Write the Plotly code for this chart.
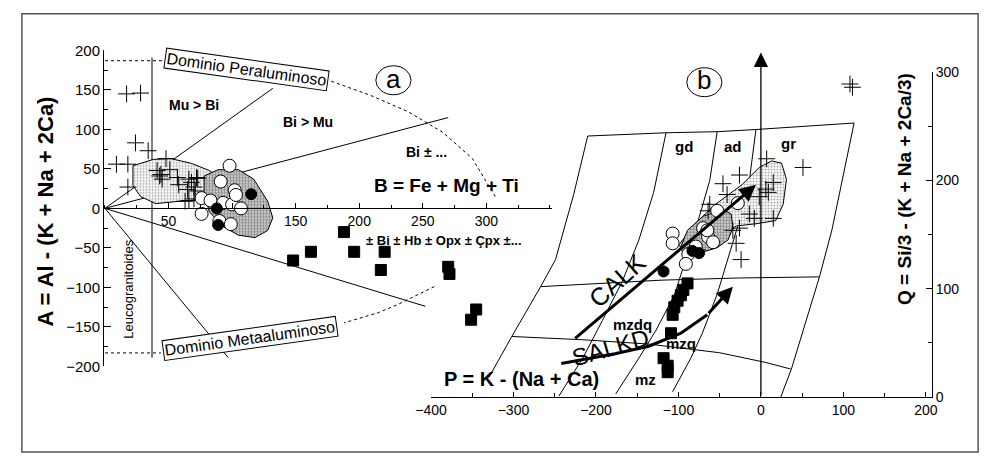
import plotly.graph_objects as go

W, H = 990, 462
def px(x):
    return x / W
def py(y):
    return 1 - y / H

FONT = "Liberation Sans"

# ---------------- Panel a data (B = Fe+Mg+Ti, A = Al-(K+Na+2Ca)) ----------------
a_cross_B = [17, 28, 24, 34, 9, 18, 18, 48, 41, 44, 51, 57, 66, 72, 65, 70, 63, 70, 43, 45, 58, 68, 71, 66, 73]
a_cross_A = [145, 146, 83, 73, 56, 56, 27, 63, 48, 43, 49, 39, 37, 39, 24, 27, 9, 12, 41, 37, 30, 33, 22, 10, 38]

a_open_B = [98, 91, 102, 76, 83, 93, 100, 107, 76, 90, 99, 103]
a_open_A = [54, 34, 23, 13, 10, 7, 5, 0, -7, -16, -20, 17]

a_fill_B = [88, 115, 89]
a_fill_A = [0, 18, -21]

a_sq_B = [148, 162, 188, 196, 220, 217, 270, 271, 292, 288]
a_sq_A = [-66, -55, -30, -55, -55, -78, -74, -83, -128, -141]

a_light_B = [22, 38, 52, 68, 82, 95, 88, 76, 58, 40, 28, 22]
a_light_A = [54, 62, 63, 57, 48, 33, 15, 11, 9, 6, 15, 29]

a_dark_B = [78, 89, 105, 117, 128, 132, 128, 118, 105, 92, 82, 78]
a_dark_A = [41, 49, 49, 37, 9, -12, -28, -37, -34, -22, -4, 21]

# rays from origin
a_ray_B = [0, 132, None, 0, 270, None, 0, 252, None, 0, 97]
a_ray_A = [0, 152, None, 0, 115, None, 0, -124, None, 0, -189]

# leucogranitoid limit
a_leuco_B = [37, 37]
a_leuco_A = [191, -189]
a_dot_B = [0, 45, None, 0, 44]
a_dot_A = [187, 187, None, -183, -183]

# dashed envelope
a_env_up_B = [178, 209, 239, 266, 289, 299, 307]
a_env_up_A = [161, 143, 122, 96, 63, 37, 15]
a_env_lo_B = [259, 245, 230, 215, 202, 188]
a_env_lo_A = [-99, -110, -122, -132, -138, -145]

# ---------------- Panel b data (P = K-(Na+Ca), Q = Si/3-(K+Na+2Ca/3)) ----------------
b_cross_P = [7, 51, -26, -46, 15, 6, 9, -41, -62, -64, -14, -8, 15, -26, -34, -30, -24, -77, 108, 111, -2]
b_cross_Q = [220, 212, 205, 197, 198, 192, 189, 187, 178, 172, 169, 165, 165, 156, 154, 142, 127, 136, 289, 286, 185]

b_open_P = [-107, -107, -53, -28, -70, -64, -58, -79, -88, -91, -65]
b_open_Q = [151, 142, 172, 179, 156, 148, 143, 139, 132, 123, 154]

b_fill_P = [-118, -75, -83]
b_fill_Q = [116, 133, 135]

b_sq_P = [-89, -94, -97, -101, -105, -107, -109, -118, -113, -113]
b_sq_Q = [105, 99, 94, 89, 83, 76, 59, 36, 29, 23]

b_light_P = [-100, -80, -55, -38, -23, -2, 13, 25, 31, 27, 18, -6, -30, -60, -85]
b_light_Q = [140, 160, 178, 188, 196, 212, 218, 216, 201, 178, 163, 160, 158, 140, 133]

b_dark_P = [-97, -89, -70, -46, -36, -34, -40, -53, -70, -85, -95]
b_dark_Q = [139, 154, 167, 173, 169, 156, 145, 138, 134, 133, 134]

# grid of the P-Q diagram
b_top_P = [-210, -115, -53, -6, 113]
b_top_Q = [241, 244, 245, 247, 253]
b_L1_P = [-210, -227, -249, -267, -302, -330]
b_L1_Q = [241, 187, 127, 102, 56, 18]
b_L2_P = [-115, -130, -148, -168, -192, -216, -245]
b_L2_Q = [244, 189, 145, 107, 71, 36, 1]
b_L3_P = [-53, -62, -76, -92, -105, -127, -148, -176]
b_L3_Q = [245, 200, 163, 124, 94, 62, 36, 3]
b_L4_P = [-6, -14, -26, -40, -53, -71, -85, -107]
b_L4_Q = [247, 200, 163, 127, 95, 59, 36, 5]
b_L5_P = [113, 86, 71, 37, 24]
b_L5_Q = [253, 154, 111, 26, 0]
b_H1_P = [-267, -200, -120, -26, 71]
b_H1_Q = [102, 105, 108, 110, 111]
b_H2_P = [-302, -216, -136, -50, 6, 36]
b_H2_Q = [56, 53, 49, 41, 32, 26]

b_salk_P = [-242, -177, -136, -97, -65]
b_salk_Q = [31, 40, 47, 59, 76]

a_xticks = [50, 100, 150, 200, 250, 300]
a_xticktext = ["50", "", "150", "200", "250", "300"]
b_xticks = [-400, -300, -200, -100, 0, 100, 200]
b_yticks = [0, 100, 200, 300]

fig = go.Figure()

def line(x, y, ax, width=1, dash="solid", color="black"):
    xa, ya = ("x", "y") if ax == "a" else ("x2", "y2")
    fig.add_trace(go.Scatter(x=x, y=y, xaxis=xa, yaxis=ya, mode="lines",
                             line=dict(color=color, width=width, dash=dash),
                             hoverinfo="skip"))

def region(x, y, ax, sol, fg):
    xa, ya = ("x", "y") if ax == "a" else ("x2", "y2")
    fig.add_trace(go.Scatter(x=x + x[:1], y=y + y[:1], xaxis=xa, yaxis=ya, mode="lines",
                             fill="toself", line=dict(color="black", width=1),
                             fillcolor="white",
                             fillpattern=dict(shape=".", fgcolor=fg, bgcolor="white",
                                              size=3, solidity=sol),
                             hoverinfo="skip"))

def marks(x, y, ax, symbol, size, fill, lw=1):
    xa, ya = ("x", "y") if ax == "a" else ("x2", "y2")
    fig.add_trace(go.Scatter(x=x, y=y, xaxis=xa, yaxis=ya, mode="markers",
                             marker=dict(symbol=symbol, size=size, color=fill,
                                         line=dict(color="black", width=lw)),
                             hoverinfo="skip"))

# ---- panel a
line(a_ray_B, a_ray_A, "a")
line(a_leuco_B, a_leuco_A, "a")
line(a_dot_B, a_dot_A, "a", dash="dot")
line(a_env_up_B, a_env_up_A, "a", dash="dot")
line(a_env_lo_B, a_env_lo_A, "a", dash="dot")
region(a_light_B, a_light_A, "a", 0.4, "#555555")
region(a_dark_B, a_dark_A, "a", 0.75, "#222222")
marks(a_cross_B, a_cross_A, "a", "cross-thin-open", 12, "black")
marks(a_open_B, a_open_A, "a", "circle", 13, "white")
marks(a_fill_B, a_fill_A, "a", "circle", 11, "black")
marks(a_sq_B, a_sq_A, "a", "square", 11, "black")

# ---- panel b
for xs, ys in [(b_top_P, b_top_Q), (b_L1_P, b_L1_Q), (b_L2_P, b_L2_Q), (b_L3_P, b_L3_Q),
               (b_L4_P, b_L4_Q), (b_L5_P, b_L5_Q), (b_H1_P, b_H1_Q), (b_H2_P, b_H2_Q)]:
    line(xs, ys, "b")
region(b_light_P, b_light_Q, "b", 0.4, "#555555")
region(b_dark_P, b_dark_Q, "b", 0.75, "#222222")
line(b_salk_P, b_salk_Q, "b", width=3)
marks(b_cross_P, b_cross_Q, "b", "cross-thin-open", 12, "black")
marks(b_open_P, b_open_Q, "b", "circle", 13, "white")
marks(b_fill_P, b_fill_Q, "b", "circle", 11, "black")
marks(b_sq_P, b_sq_Q, "b", "square", 11, "black")

tickfont_a = dict(family=FONT, size=14, color="black")
tickfont_b = dict(family=FONT, size=14, color="black")

fig.update_layout(
    width=W, height=H, margin=dict(l=0, r=0, t=0, b=0),
    paper_bgcolor="white", plot_bgcolor="rgba(0,0,0,0)", showlegend=False,
    xaxis=dict(domain=[px(89), px(548)], range=[-1.54, 351.5], anchor="free", position=py(207),
               showline=True, linecolor="black", linewidth=1, ticks="inside", ticklen=5,
               tickcolor="black", tickvals=a_xticks, ticktext=a_xticktext, tickfont=tickfont_a,
               minor=dict(dtick=25, ticks="inside", ticklen=3, tickcolor="black"),
               showgrid=False, zeroline=False),
    yaxis=dict(domain=[py(371), py(43)], range=[-200, 200], anchor="free", position=px(89),
               showline=True, linecolor="black", linewidth=1, ticks="inside", ticklen=7,
               tickcolor="black", dtick=50, tickfont=dict(family=FONT, size=15, color="black"),
               minor=dict(dtick=25, ticks="inside", ticklen=4, tickcolor="black"),
               showgrid=False, zeroline=False),
    xaxis2=dict(domain=[px(424.4), px(936.7)], range=[-400, 207.3], anchor="y2",
                showline=True, linecolor="black", linewidth=1, ticks="inside", ticklen=5,
                tickcolor="black", tickvals=b_xticks, tickfont=tickfont_b,
                minor=dict(dtick=50, ticks="inside", ticklen=4, tickcolor="black"),
                showgrid=False, zeroline=False),
    yaxis2=dict(domain=[py(403), py(65.5)], range=[0, 300], anchor="x2", side="right",
                showline=True, linecolor="black", linewidth=1, ticks="inside", ticklen=6,
                tickcolor="black", tickvals=b_yticks, tickfont=tickfont_b,
                minor=dict(dtick=50, ticks="inside", ticklen=4, tickcolor="black"),
                showgrid=False, zeroline=False),
)

def note(text, x, y, size=12, angle=0, bold=False, **kw):
    t = "<b>%s</b>" % text if bold else text
    fig.add_annotation(text=t, x=px(x), y=py(y), xref="paper", yref="paper",
                       showarrow=False, textangle=angle,
                       font=dict(family=FONT, size=size, color="black"),
                       xanchor="center", yanchor="middle", **kw)

note("Dominio Peraluminoso", 236, 63, size=16, angle=8,
     bordercolor="black", borderwidth=1, borderpad=1, bgcolor="white")
note("Dominio Metaaluminoso", 239, 342, size=16, angle=-8,
     bordercolor="black", borderwidth=1, borderpad=1, bgcolor="white")
note("Leucogranitoides", 115, 290, size=13, angle=-90)
note("Mu &gt; Bi", 182, 100, size=14, bold=True)
note("Bi &gt; Mu", 299, 117, size=14, bold=True)
note("Bi ± ...", 420, 148, size=14, bold=True)
note("B = Fe + Mg + Ti", 440, 183, size=19, bold=True)
note("± Bi ± Hb ± Opx ± Çpx ±...", 438, 240, size=13, bold=True)
note("A = Al - (K + Na + 2Ca)", 30, 210, size=22, angle=-90, bold=True)
note("a", 386, 73, size=26)
note("b", 704, 74, size=26)
note("gd", 683, 143, size=15, bold=True)
note("ad", 733, 143, size=15, bold=True)
note("gr", 790, 140, size=15, bold=True)
note("mzdq", 630, 328, size=15, bold=True)
note("mzq", 680, 347, size=15, bold=True)
note("mz", 644, 385, size=15, bold=True)
note("CALK", 615, 281, size=25, angle=-42)
note("SALKD", 608, 351, size=24, angle=-16)
note("P = K - (Na + Ca)", 517, 384, size=20, bold=True)
note("Q = Si/3 - (K + Na + 2Ca/3)", 908, 187, size=19, angle=-90, bold=True)

def arrow(hx, hy, tx, ty, width, size):
    fig.add_annotation(x=hx, y=hy, ax=tx, ay=ty, xref="x2", yref="y2", axref="x2", ayref="y2",
                       showarrow=True, arrowhead=2, arrowsize=size, arrowwidth=width,
                       arrowcolor="black", text="")

arrow(0, 318, 0, 0, 1.3, 2.2)
arrow(-6, 196, -227, 53, 3, 1.1)
arrow(-34, 102, -65, 76, 3, 1.1)

# circles around a / b and outer frame
for cx, cy in [(386, 74), (704, 76)]:
    fig.add_shape(type="circle", xref="paper", yref="paper",
                  x0=px(cx - 18), x1=px(cx + 18), y0=py(cy + 15), y1=py(cy - 15),
                  line=dict(color="black", width=1))
fig.add_shape(type="rect", xref="paper", yref="paper",
              x0=px(6), x1=px(984), y0=py(460), y1=py(5),
              line=dict(color="#555555", width=1.5))

fig.write_html("out.html")
